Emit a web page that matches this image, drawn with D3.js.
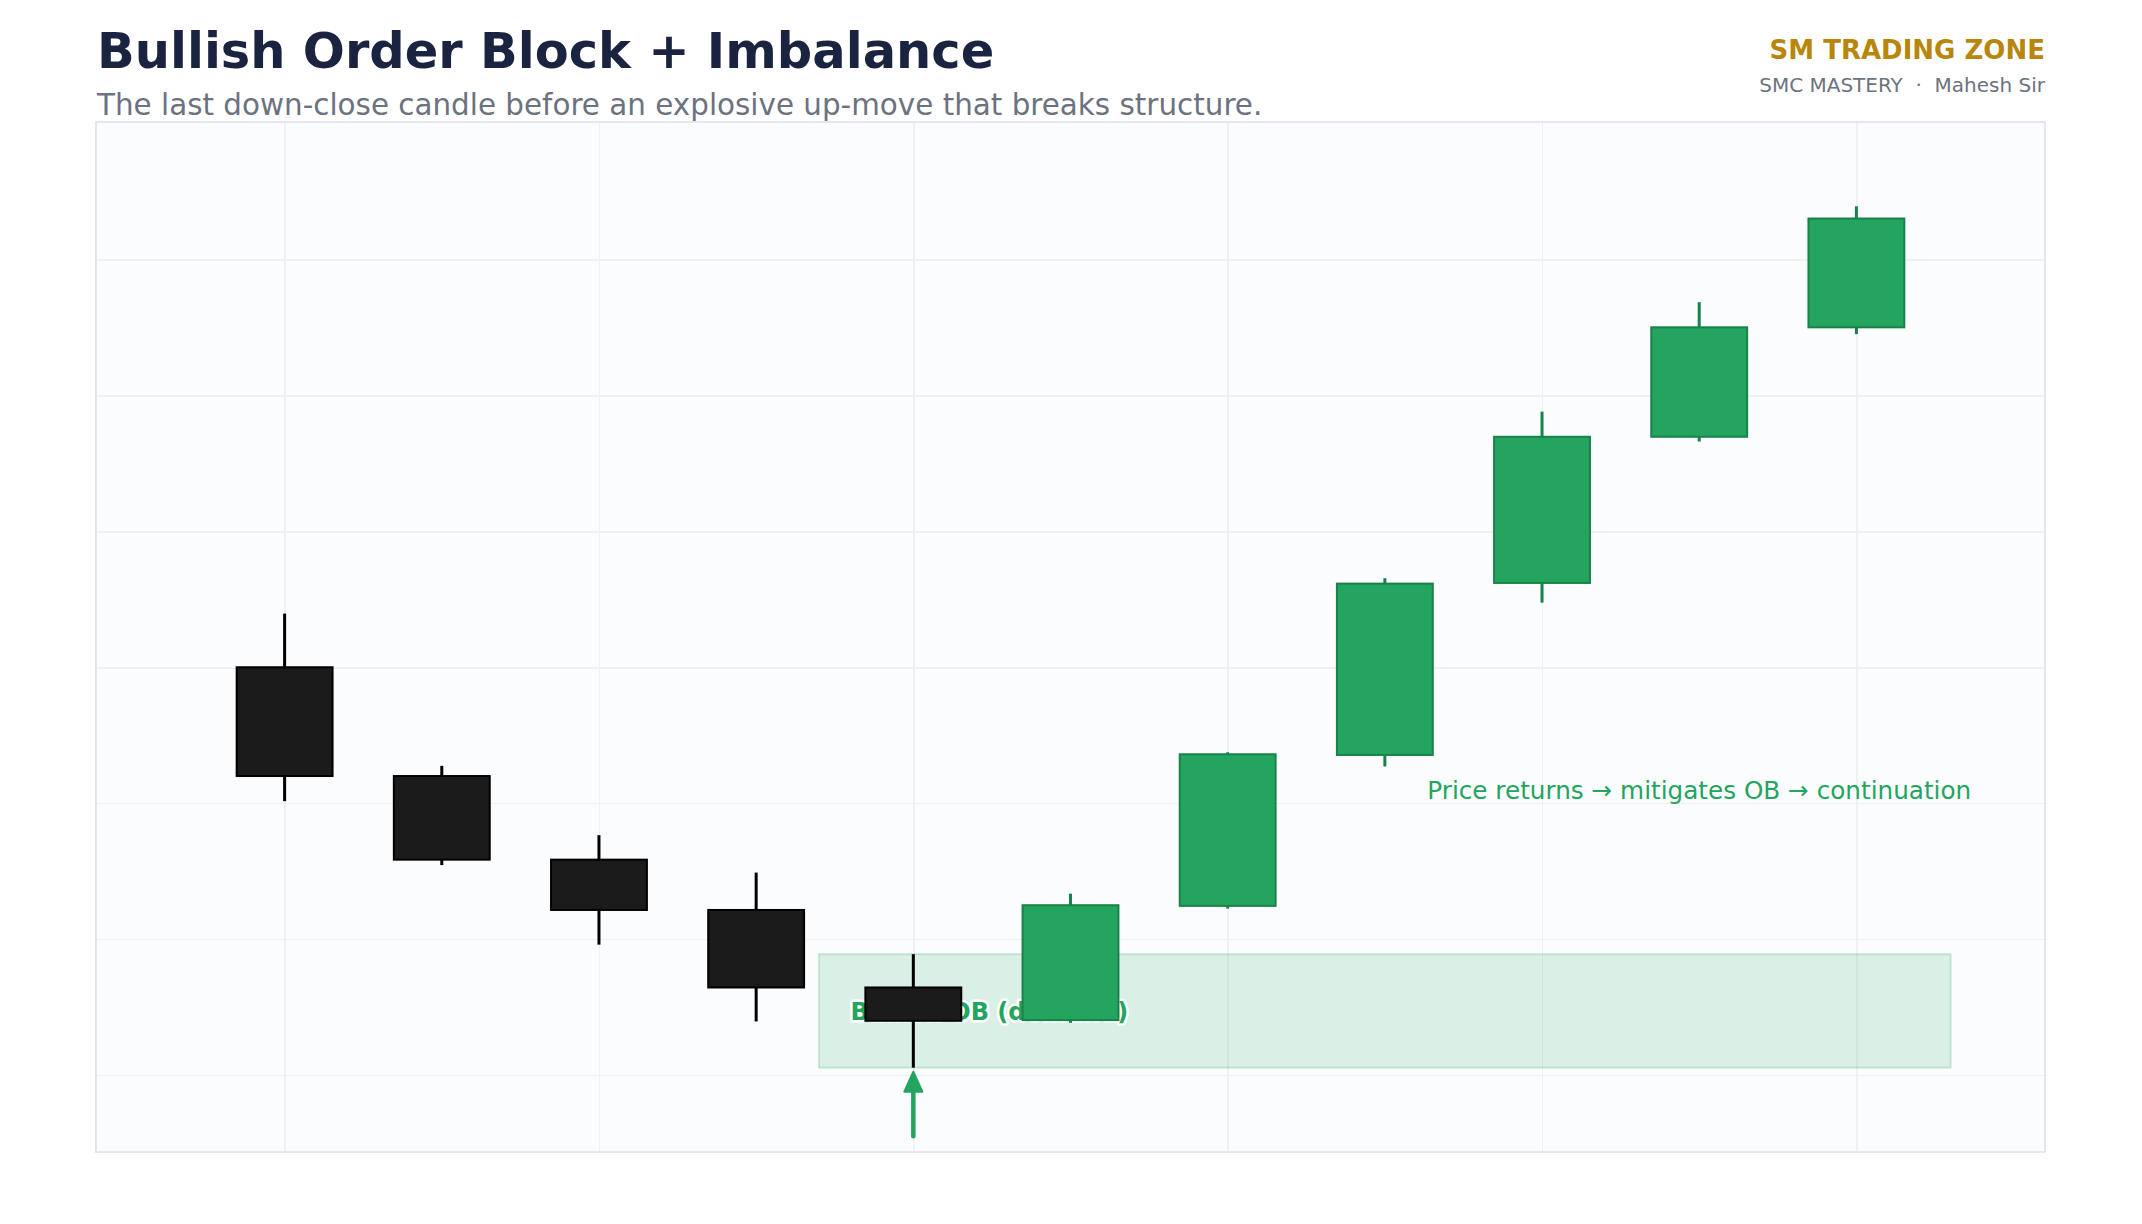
<!DOCTYPE html>
<html>
  <head>
    <meta charset="utf-8">
    <script src="https://cdn.jsdelivr.net/npm/d3@7"></script>
    <style type="text/css">
      body { margin: 0; background: #ffffff; }
      text { font-family: "DejaVu Sans", sans-serif; }
      .grid line { stroke: #eef0f4; stroke-width: 1.5; shape-rendering: crispEdges; }
      .grid path { display: none; }
    </style>
  </head>
  <body>
    <div class="plot_canvas"></div>
    <script>
      // candle data (index, OHLC)
      var candleIdx = [0, 1, 2, 3, 4, 5, 6, 7, 8, 9, 10];
      var opens  = [106.00, 104.40, 103.17, 102.43, 101.29, 100.81, 102.49, 104.71, 107.24, 109.39, 111.00];
      var highs  = [106.79, 104.55, 103.53, 102.98, 101.78, 102.67, 104.75, 107.31, 109.76, 111.37, 112.78];
      var lows   = [104.03, 103.09, 101.92, 100.79, 100.11, 100.77, 102.45, 104.54, 106.95, 109.32, 110.90];
      var closes = [104.40, 103.17, 102.43, 101.29, 100.80, 102.50, 104.72, 107.23, 109.39, 111.00, 112.60];

      var xDomain = [-1.2, 11.2];
      var yDomain = [98.87, 114.02];
      var gridX = [0, 2, 4, 6, 8, 10];
      var gridY = [100, 102, 104, 106, 108, 110, 112];

      // order block zone + annotations
      var zoneX = [3.4, 10.6];
      var zoneY = [100.11, 101.78];
      var obLabel = "Bullish OB (demand)";
      var obLabelX = 3.6;
      var arrowX = 4;
      var arrowY = [99.10, 100.05];
      var noteText = "Price returns \u2192 mitigates OB \u2192 continuation";
      var noteX = 7.27;
      var noteY = 104.2;

      var titleText = "Bullish Order Block + Imbalance";
      var subtitleText = "The last down-close candle before an explosive up-move that breaks structure.";
      var brandText = "SM TRADING ZONE";
      var brandSub = "SMC MASTERY  \u00b7  Mahesh Sir";

      var col_bull = "#23a55f";
      var col_bull_edge = "#19824b";
      var col_bear = "#1b1b1b";
      var col_bear_edge = "#000000";

      var width = 2142;
      var height = 1224;
      var margin = {top: 122, right: 97, bottom: 72, left: 96};
      var w = width - margin.left - margin.right;
      var h = height - margin.top - margin.bottom;

      var xScale = d3.scaleLinear().domain(xDomain).range([0, w]);
      var yScale = d3.scaleLinear().domain(yDomain).range([h, 0]);
      var unit = xScale(1) - xScale(0);

      var svg = d3.select(".plot_canvas")
        .append("svg")
        .attr("width", width)
        .attr("height", height);

      // header
      svg.append("text")
        .attr("x", 97).attr("y", 68)
        .attr("font-size", 49.5).attr("font-weight", "bold")
        .attr("fill", "#1a2340")
        .text(titleText);
      svg.append("text")
        .attr("x", 97).attr("y", 115)
        .attr("font-size", 29.4).attr("fill", "#6b7280")
        .text(subtitleText);
      svg.append("text")
        .attr("x", 2045).attr("y", 59)
        .attr("text-anchor", "end")
        .attr("font-size", 26).attr("font-weight", "bold")
        .attr("fill", "#b8860b")
        .text(brandText);
      svg.append("text")
        .attr("x", 2045).attr("y", 92)
        .attr("text-anchor", "end")
        .attr("font-size", 20).attr("fill", "#6b7280")
        .style("white-space", "pre")
        .text(brandSub);

      var g = svg.append("g")
        .attr("transform", "translate(" + margin.left + "," + margin.top + ")");

      g.append("rect")
        .attr("width", w).attr("height", h)
        .attr("fill", "#fbfcfe");

      // grid
      g.append("g").attr("class", "grid")
        .attr("transform", "translate(0," + h + ")")
        .call(d3.axisBottom(xScale).tickValues(gridX).tickSize(-h).tickFormat(""));
      g.append("g").attr("class", "grid")
        .call(d3.axisLeft(yScale).tickValues(gridY).tickSize(-w).tickFormat(""));

      // OB zone
      g.append("rect")
        .attr("x", xScale(zoneX[0]))
        .attr("y", yScale(zoneY[1]))
        .attr("width", xScale(zoneX[1]) - xScale(zoneX[0]))
        .attr("height", yScale(zoneY[0]) - yScale(zoneY[1]))
        .attr("fill", col_bull).attr("fill-opacity", 0.15)
        .attr("stroke", col_bull).attr("stroke-opacity", 0.2)
        .attr("stroke-width", 2);

      g.append("text")
        .attr("x", xScale(obLabelX))
        .attr("y", yScale((zoneY[0] + zoneY[1]) / 2))
        .attr("dy", "0.36em")
        .attr("font-size", 24).attr("font-weight", "bold")
        .attr("fill", col_bull)
        .attr("stroke", "#ffffff").attr("stroke-width", 5)
        .attr("stroke-linejoin", "round")
        .attr("paint-order", "stroke")
        .text(obLabel);

      // candles
      var candles = candleIdx.map(function (i) {
        return {i: i, o: opens[i], hi: highs[i], lo: lows[i], c: closes[i], up: closes[i] >= opens[i]};
      });
      var bodyW = 0.61 * unit;

      var cg = g.append("g").selectAll("g")
        .data(candles).enter()
        .append("g");

      cg.append("line")
        .attr("x1", function (d) { return xScale(d.i); })
        .attr("x2", function (d) { return xScale(d.i); })
        .attr("y1", function (d) { return yScale(d.hi); })
        .attr("y2", function (d) { return yScale(d.lo); })
        .attr("stroke", function (d) { return d.up ? col_bull_edge : col_bear_edge; })
        .attr("stroke-width", 3);

      cg.append("rect")
        .attr("x", function (d) { return xScale(d.i) - bodyW / 2; })
        .attr("y", function (d) { return yScale(Math.max(d.o, d.c)); })
        .attr("width", bodyW)
        .attr("height", function (d) { return Math.abs(yScale(d.o) - yScale(d.c)); })
        .attr("fill", function (d) { return d.up ? col_bull : col_bear; })
        .attr("stroke", function (d) { return d.up ? col_bull_edge : col_bear_edge; })
        .attr("stroke-width", 2);

      // arrow under the OB candle
      var ax = xScale(arrowX);
      var yTail = yScale(arrowY[0]);
      var yTip = yScale(arrowY[1]);
      g.append("line")
        .attr("x1", ax).attr("x2", ax)
        .attr("y1", yTail).attr("y2", yTip + 16)
        .attr("stroke", col_bull).attr("stroke-width", 4.5)
        .attr("stroke-linecap", "round");
      g.append("path")
        .attr("d", "M" + ax + "," + yTip + "L" + (ax - 9) + "," + (yTip + 20) + "L" + (ax + 9) + "," + (yTip + 20) + "Z")
        .attr("fill", col_bull)
        .attr("stroke", col_bull).attr("stroke-width", 2)
        .attr("stroke-linejoin", "round");

      g.append("text")
        .attr("x", xScale(noteX))
        .attr("y", yScale(noteY))
        .attr("dy", "0.36em")
        .attr("font-size", 24.7)
        .attr("fill", col_bull)
        .text(noteText);

      // frame
      g.append("rect")
        .attr("width", w).attr("height", h)
        .attr("fill", "none")
        .attr("stroke", "#e3e7ef").attr("stroke-width", 2);
    </script>
  </body>
</html>
